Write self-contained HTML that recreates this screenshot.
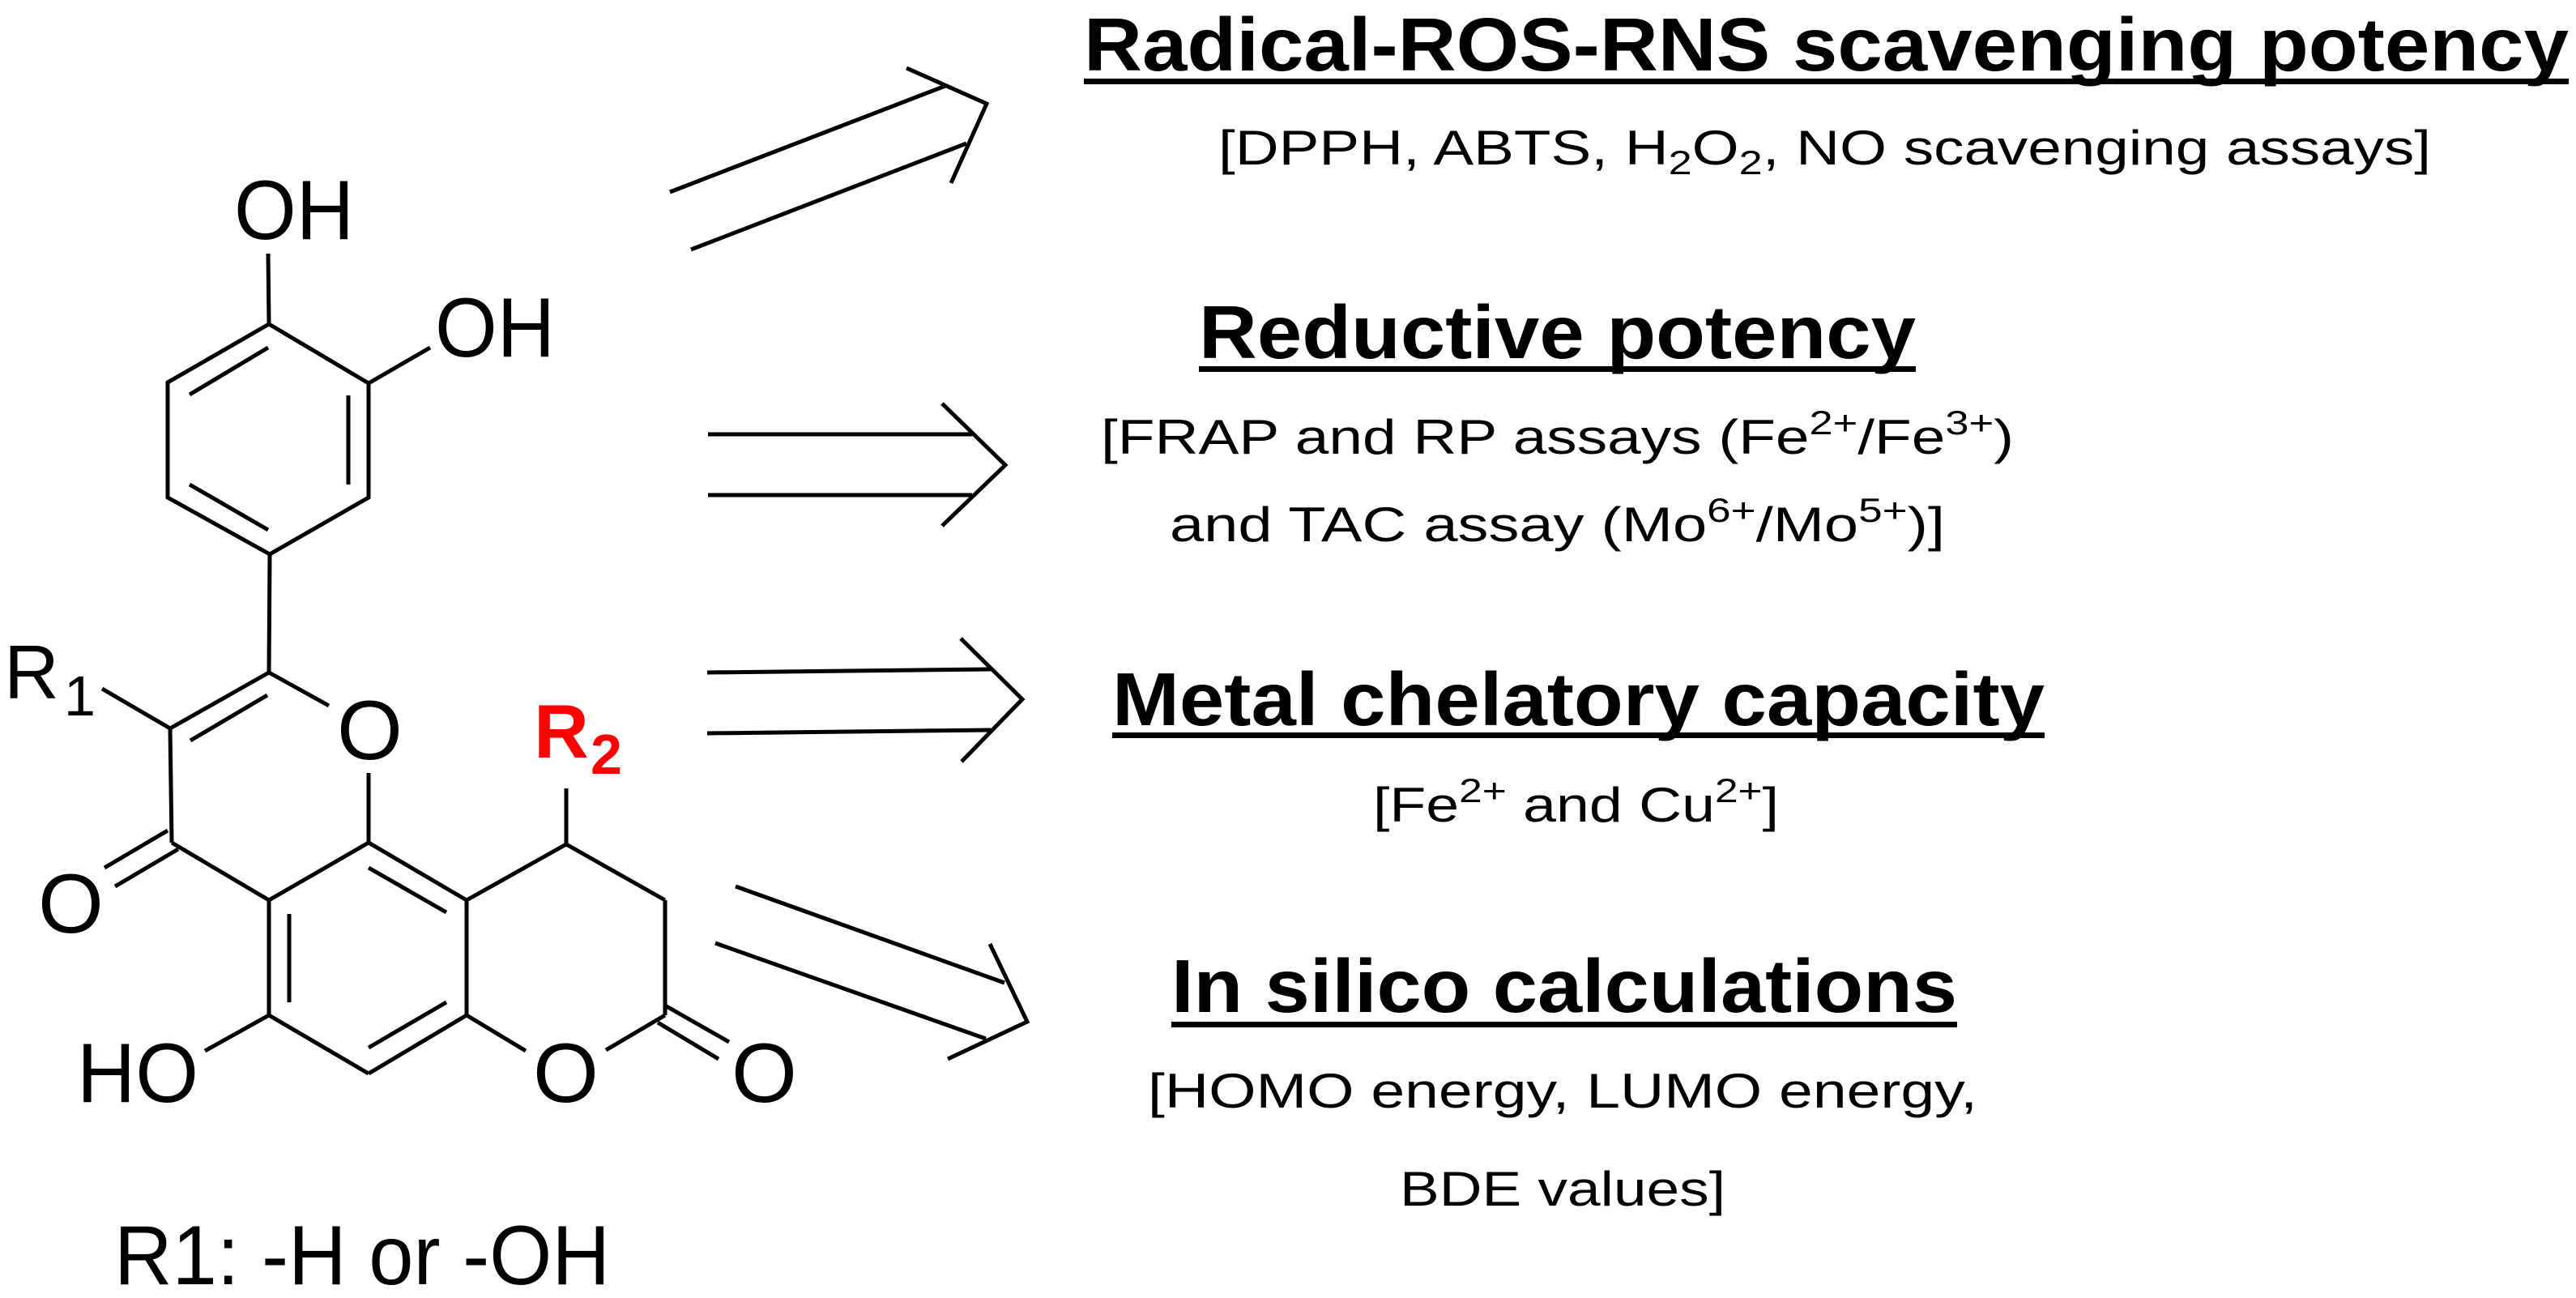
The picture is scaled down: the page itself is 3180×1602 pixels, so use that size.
<!DOCTYPE html>
<html><head><meta charset="utf-8">
<style>
html,body{margin:0;padding:0;background:#fff;}
svg{display:block;}
text{font-family:"Liberation Sans",Arial,sans-serif;fill:#000;}
</style></head>
<body>
<svg width="3180" height="1602" viewBox="0 0 3180 1602" xmlns="http://www.w3.org/2000/svg">
<g stroke="#000" stroke-width="5" stroke-linecap="butt" fill="none">
<!-- ring B -->
<line x1="331" y1="313" x2="332" y2="400"/>
<polyline points="332,400 455,473 455,614 333,684 207,614 207,472 332,400"/>
<line x1="234" y1="487" x2="331" y2="429"/>
<line x1="430" y1="488" x2="430" y2="598"/>
<line x1="234" y1="598" x2="331" y2="654"/>
<line x1="455" y1="473" x2="531" y2="429"/>
<line x1="333" y1="684" x2="332" y2="830"/>
<!-- pyranone ring -->
<line x1="332" y1="830" x2="406" y2="871"/>
<line x1="332" y1="830" x2="210" y2="899"/>
<line x1="235" y1="914" x2="330" y2="858"/>
<line x1="210" y1="899" x2="126" y2="850"/>
<line x1="210" y1="899" x2="212" y2="1040"/>
<line x1="207" y1="1025" x2="129" y2="1071"/>
<line x1="220" y1="1048" x2="142" y2="1094"/>
<line x1="212" y1="1040" x2="332" y2="1111"/>
<line x1="332" y1="1111" x2="455" y2="1040"/>
<line x1="455" y1="954" x2="455" y2="1040"/>
<!-- ring A -->
<line x1="455" y1="1040" x2="576" y2="1111"/>
<line x1="455" y1="1071" x2="551" y2="1126"/>
<line x1="576" y1="1111" x2="576" y2="1253"/>
<line x1="576" y1="1253" x2="455" y2="1325"/>
<line x1="455" y1="1293" x2="551" y2="1237"/>
<line x1="455" y1="1325" x2="332" y2="1253"/>
<line x1="332" y1="1253" x2="332" y2="1111"/>
<line x1="357" y1="1128" x2="357" y2="1237"/>
<line x1="332" y1="1253" x2="253" y2="1297"/>
<!-- lactone ring -->
<line x1="576" y1="1111" x2="699" y2="1042"/>
<line x1="699" y1="1042" x2="699" y2="973"/>
<line x1="699" y1="1042" x2="821" y2="1111"/>
<line x1="821" y1="1111" x2="821" y2="1253"/>
<line x1="576" y1="1253" x2="649" y2="1297"/>
<line x1="748" y1="1296" x2="821" y2="1253"/>
<line x1="821" y1="1241" x2="900" y2="1286"/>
<line x1="812" y1="1262" x2="887" y2="1307"/>
<!-- arrows -->
<line x1="827" y1="237" x2="1167" y2="106"/>
<line x1="853" y1="308" x2="1193" y2="177"/>
<polyline points="1119,84 1218,128 1174,226"/>
<line x1="874" y1="536" x2="1200" y2="536"/>
<line x1="874" y1="611" x2="1200" y2="611"/>
<polyline points="1163,498 1241,574 1163,649"/>
<line x1="873" y1="830" x2="1223" y2="826"/>
<line x1="873" y1="905" x2="1223" y2="901"/>
<polyline points="1186,788 1262,863 1187,940"/>
<line x1="908" y1="1094" x2="1240" y2="1213"/>
<line x1="883" y1="1164" x2="1217" y2="1282"/>
<polyline points="1222,1165 1268,1261 1170,1307"/>
</g>
<!-- molecule labels -->
<g font-size="104">
<text x="289" y="295" textLength="148" lengthAdjust="spacingAndGlyphs">OH</text>
<text x="537" y="440" textLength="148" lengthAdjust="spacingAndGlyphs">OH</text>
<text x="416" y="937">O</text>
<text x="47" y="1151">O</text>
<text x="95" y="1360" textLength="150" lengthAdjust="spacingAndGlyphs">HO</text>
<text x="658" y="1360">O</text>
<text x="903" y="1360">O</text>
<text x="5" y="862" font-size="94">R</text>
<text x="79" y="883" font-size="70">1</text>
<text x="659" y="935" font-size="94" font-weight="bold" style="fill:#ff0000">R</text>
<text x="729" y="955" font-size="70" font-weight="bold" style="fill:#ff0000">2</text>
<text x="141" y="1585" textLength="612" lengthAdjust="spacingAndGlyphs">R1: -H or -OH</text>
</g>
<!-- right side headings -->
<g font-weight="bold" font-size="93">
<text x="1338" y="87" textLength="1833" lengthAdjust="spacingAndGlyphs">Radical-ROS-RNS scavenging potency</text>
<text x="1480" y="442" textLength="885" lengthAdjust="spacingAndGlyphs">Reductive potency</text>
<text x="1373" y="895" textLength="1151" lengthAdjust="spacingAndGlyphs">Metal chelatory capacity</text>
<text x="1446" y="1249" textLength="970" lengthAdjust="spacingAndGlyphs">In silico calculations</text>
</g>
<g fill="#000">
<rect x="1338" y="97" width="1833" height="7"/>
<rect x="1480" y="452" width="885" height="7"/>
<rect x="1373" y="904" width="1151" height="7"/>
<rect x="1446" y="1261" width="970" height="7"/>
</g>
<g font-size="60">
<text x="1504" y="203" textLength="1497" lengthAdjust="spacingAndGlyphs">[DPPH, ABTS, H<tspan font-size="42" dy="12">2</tspan><tspan dy="-12">O</tspan><tspan font-size="42" dy="12">2</tspan><tspan dy="-12">, NO scavenging assays]</tspan></text>
<text x="1359" y="560" textLength="1127" lengthAdjust="spacingAndGlyphs">[FRAP and RP assays (Fe<tspan font-size="42" dy="-24">2+</tspan><tspan dy="24">/Fe</tspan><tspan font-size="42" dy="-24">3+</tspan><tspan dy="24">)</tspan></text>
<text x="1444" y="668" textLength="957" lengthAdjust="spacingAndGlyphs">and TAC assay (Mo<tspan font-size="42" dy="-24">6+</tspan><tspan dy="24">/Mo</tspan><tspan font-size="42" dy="-24">5+</tspan><tspan dy="24">)]</tspan></text>
<text x="1695" y="1014" textLength="501" lengthAdjust="spacingAndGlyphs">[Fe<tspan font-size="42" dy="-24">2+</tspan><tspan dy="24"> and Cu</tspan><tspan font-size="42" dy="-24">2+</tspan><tspan dy="24">]</tspan></text>
<text x="1417" y="1367" textLength="1024" lengthAdjust="spacingAndGlyphs">[HOMO energy, LUMO energy,</text>
<text x="1728" y="1488" textLength="402" lengthAdjust="spacingAndGlyphs">BDE values]</text>
</g>
</svg>
</body></html>
